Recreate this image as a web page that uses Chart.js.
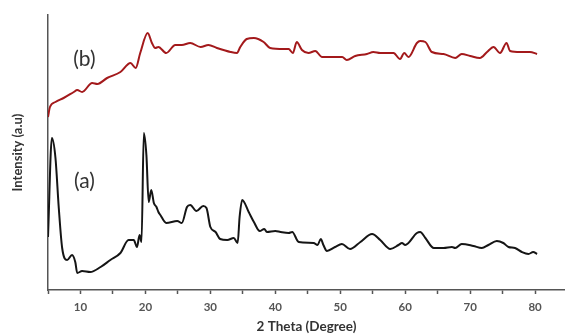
<!DOCTYPE html>
<html>
<head>
<meta charset="utf-8">
<script src="https://cdn.jsdelivr.net/npm/chart.js@4/dist/chart.umd.min.js"></script>
<style>
  body { margin: 0; background: #fff; }
  #wrap { width: 565px; height: 335px; }
</style>
</head>
<body>
<div id="wrap"><canvas id="xrdChart" width="565" height="335"></canvas></div>
<script>
// --- data (2 theta in degrees, intensity in a.u.) ---
const thetaA = [5.0, 5.6, 6.15, 6.66, 7.18, 7.95, 8.7, 9.2, 9.5, 10.25, 11.5, 13.1, 14.6, 16.15, 17.4, 18.2, 18.7, 19.1, 19.4,
  19.75, 20.15, 20.5, 20.9, 21.3, 21.7, 22.0, 22.3, 23.2, 24.9, 25.6, 26.4, 26.9, 27.85, 28.9, 29.4, 30.0, 30.8, 31.5, 32.6,
  33.6, 34.2, 34.5, 34.9, 35.9, 36.7, 37.6, 38.3, 38.7, 40.0, 40.8, 42.05, 42.6, 43.6, 45.9, 46.5, 47.0, 47.4, 47.95, 49.2,
  50.25, 51.5, 53.1, 54.9, 56.15, 57.7, 58.97, 59.5, 60.0, 61.8, 62.3, 63.1, 64.4, 65.9, 67.2, 67.7, 68.7, 70.5, 71.8, 72.8,
  74.1, 75.1, 75.9, 76.9, 77.95, 78.97, 79.7, 80.3];
const intensityA = [53, 152, 132, 82, 42, 30, 35, 28, 17, 19, 18, 23, 30, 37, 50, 50, 43, 55, 48,
  157, 135, 88, 100, 87, 83, 78, 75, 67, 69, 67, 83, 85, 79, 84, 82, 63, 58, 51, 50,
  52, 47, 73, 90, 78, 68, 59, 61, 58, 59, 58, 57, 58, 48, 47, 45, 51, 45, 39, 43,
  46, 41, 48, 56, 50, 41, 45, 47, 45, 57, 58, 52, 42, 42, 43, 42, 46, 44, 42, 45,
  49, 47, 43, 42, 38, 36, 38, 36];

const thetaB = [5.0, 5.3, 6.15, 7.4, 8.97, 9.5, 10.25, 11.8, 12.6, 14.1, 16.15, 17.7, 18.5, 19.2, 20.35, 21.0, 21.5, 22.0,
  23.2, 24.6, 25.6, 26.9, 28.5, 29.7, 31.0, 33.1, 34.1, 34.6, 35.6, 36.7, 38.2, 39.2, 41.3, 42.05, 42.7, 43.3, 44.1, 45.1,
  46.15, 47.2, 49.0, 50.3, 51.0, 52.3, 54.1, 55.1, 56.15, 58.2, 59.2, 59.85, 60.5, 61.8, 62.3, 63.1, 64.1, 65.9, 67.7,
  68.7, 70.0, 71.5, 72.6, 73.6, 74.6, 75.6, 76.15, 77.7, 79.2, 80.3];
const intensityB = [173, 183, 188, 192, 198, 200, 198, 207, 206, 212, 218, 227, 222, 237, 257, 247, 242, 243,
  237, 245, 245, 247, 243, 245, 242, 238, 237, 243, 251, 252, 248, 242, 241, 241, 237, 248, 240, 237,
  239, 233, 233, 233, 230, 234, 236, 238, 237, 237, 231, 237, 233, 247, 249, 248, 238, 236, 232,
  236, 234, 232, 238, 243, 237, 247, 239, 238, 238, 236];

const xTickValues = [5, 10, 15, 20, 25, 30, 35, 40, 45, 50, 55, 60, 65, 70, 75, 80];
const xTickLabels = ['', '10', '', '20', '', '30', '', '40', '', '50', '', '60', '', '70', '', '80'];

const seriesTags = [
  { text: '(b)', x: 10.6, y: 231 },
  { text: '(a)', x: 10.6, y: 109 }
];

const FONT = 'Lato, "Open Sans", sans-serif';

function toPoints(xs, ys) {
  return xs.map((x, i) => ({ x: x, y: ys[i] }));
}

// draws the (a) / (b) tags next to the curves
const tagPlugin = {
  id: 'tags',
  afterDatasetsDraw(chart) {
    const ctx = chart.ctx;
    const xs = chart.scales.x, ys = chart.scales.y;
    ctx.save();
    ctx.font = '21px ' + FONT;
    ctx.fillStyle = '#333';
    ctx.textAlign = 'center';
    ctx.textBaseline = 'middle';
    seriesTags.forEach(t => {
      ctx.fillText(t.text, xs.getPixelForValue(t.x), ys.getPixelForValue(t.y));
    });
    ctx.restore();
  }
};

new Chart(document.getElementById('xrdChart').getContext('2d'), {
  type: 'line',
  data: {
    datasets: [
      {
        label: '(a)',
        data: toPoints(thetaA, intensityA),
        borderColor: '#151515',
        borderWidth: 2,
        pointRadius: 0,
        cubicInterpolationMode: 'monotone'
      },
      {
        label: '(b)',
        data: toPoints(thetaB, intensityB),
        borderColor: '#a3191b',
        borderWidth: 2,
        pointRadius: 0,
        cubicInterpolationMode: 'monotone'
      }
    ]
  },
  options: {
    responsive: false,
    animation: false,
    layout: { padding: { top: 15, right: 0, left: 0, bottom: 0 } },
    plugins: { legend: { display: false }, tooltip: { enabled: false } },
    scales: {
      x: {
        type: 'linear',
        min: 5,
        max: 84.6,
        afterFit: s => { s.height = 45; },
        afterBuildTicks: s => { s.ticks = xTickValues.map(v => ({ value: v })); },
        ticks: {
          autoSkip: false,
          maxRotation: 0,
          padding: 6,
          color: '#555',
          font: { family: FONT, size: 11.5, weight: 'bold' },
          callback: (v) => xTickLabels[xTickValues.indexOf(v)]
        },
        grid: { drawOnChartArea: false, drawTicks: true, tickLength: 4, color: '#555', tickWidth: 1.5 },
        border: { display: true, color: '#555', width: 1.5 },
        title: {
          display: true,
          text: '2 Theta (Degree)',
          color: '#333',
          font: { family: FONT, size: 13.5, weight: 'bold' },
          padding: { top: 0, bottom: 0 }
        }
      },
      y: {
        type: 'linear',
        min: 0,
        max: 275,
        afterFit: s => { s.width = 48; },
        ticks: { display: false },
        grid: { drawOnChartArea: false, drawTicks: false },
        border: { display: true, color: '#555', width: 1.5 },
        title: {
          display: true,
          text: 'Intensity (a.u)',
          color: '#333',
          font: { family: FONT, size: 13, weight: 'bold' },
          padding: { top: 10, bottom: 4 }
        }
      }
    }
  },
  plugins: [tagPlugin]
});
</script>
</body>
</html>
